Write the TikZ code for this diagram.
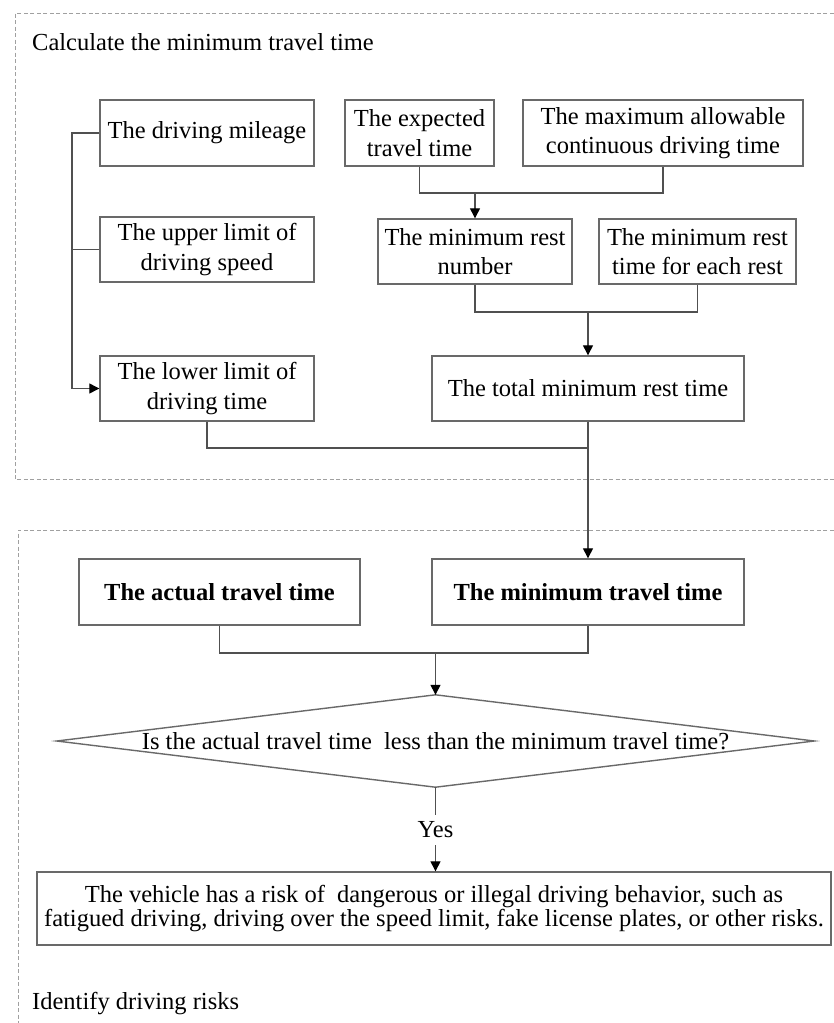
\documentclass[tikz,border=0pt]{standalone}
\usepackage{fontspec}
\setmainfont{Liberation Serif}
\usetikzlibrary{arrows.meta,calc}
\definecolor{boxline}{RGB}{105,105,105}
\definecolor{conline}{RGB}{80,80,80}
\definecolor{dashline}{RGB}{160,160,160}
\tikzset{
  x=1pt,y=-1pt,
  every node/.style={font=\fontsize{24.5}{29.5}\selectfont, align=center, inner sep=0pt},
  box/.style={draw=boxline, line width=1.4pt, fill=white},
  conn/.style={draw=conline, line width=1.3pt},
  arr/.style={conn, -{Triangle[length=10pt,width=10pt,color=black]}},
  region/.style={draw=dashline, line width=1pt, dash pattern=on 4pt off 2.5pt},
}
\begin{document}
\begin{tikzpicture}
\useasboundingbox (0,0) rectangle (833,1023);
\fill[white] (0,0) rectangle (833,1023);

% dashed regions
\draw[region] (840,13) -- (15,13) -- (15,479) -- (840,479);
\draw[region] (840,530) -- (18,530) -- (18,1030);

\node[anchor=base west] (t1) at (32,50) {Calculate the minimum travel time};
\node[anchor=base west] (t2) at (32,1009) {Identify driving risks};

% boxes
\node[box, minimum width=214, minimum height=66] (mil) at (207,133) {The driving mileage};
\node[box, minimum width=149, minimum height=66] (exp) at (419.5,133) {The expected\\travel time};
\node[box, minimum width=280, minimum height=66] (max) at (663,133) {The maximum allowable\\continuous driving time};
\node[box, minimum width=214, minimum height=65] (up) at (207,249.5) {The upper limit of\\driving speed};
\node[box, minimum width=214, minimum height=65] (low) at (207,388.5) {The lower limit of\\driving time};
\node[box, minimum width=194, minimum height=65] (rnum) at (475,251.5) {The minimum rest\\number};
\node[box, minimum width=197, minimum height=65] (rtime) at (697.5,251.5) {The minimum rest\\time for each rest};
\node[box, minimum width=312, minimum height=65] (total) at (588,388.5) {The total minimum rest time};
\node[box, minimum width=281, minimum height=66] (act) at (219.5,592) {\bfseries The actual travel time};
\node[box, minimum width=312, minimum height=66] (mint) at (588,592) {\bfseries The minimum travel time};
\node[minimum width=757, minimum height=92] (dec) at (435.5,741) {};
\draw[box] (dec.west) -- (dec.north) -- (dec.east) -- (dec.south) -- cycle;
\node at (dec.center) {Is the actual travel time\ \ less than the minimum travel time?};
\node[minimum height=30] (yes) at (435.5,830) {Yes};
\node[box, minimum width=794, minimum height=73, font=\fontsize{24.5}{23.5}\selectfont] (fin) at (434,908.5)
  {The vehicle has a risk of\ \ dangerous or illegal driving behavior, such as\\fatigued driving, driving over the speed limit, fake license plates, or other risks.};

% junction coordinates
\coordinate (tr) at (72,0);
\coordinate (j1) at (0,193);
\coordinate (j2) at (0,312);
\coordinate (j3) at (0,448);
\coordinate (j4) at (0,653);

% connectors
\draw[arr] (mil.west) -- (mil.west -| tr) |- (low.west);
\draw[conn] (up.west) -- (up.west -| tr);
\draw[conn] (exp.south) -- (exp.south |- j1) -| (max.south);
\draw[arr] (rnum.north |- j1) -- (rnum.north);
\draw[conn] (rnum.south) -- (rnum.south |- j2) -| (rtime.south);
\draw[arr] (total.north |- j2) -- (total.north);
\draw[conn] (low.south) -- (low.south |- j3) -- (total.south |- j3);
\draw[arr] (total.south) -- (mint.north);
\draw[conn] (act.south) -- (act.south |- j4) -| (mint.south);
\draw[arr] (dec.north |- j4) -- (dec.north);
\draw[conn] (dec.south) -- (yes.north);
\draw[arr] (yes.south) -- (fin.north -| yes.south);
\end{tikzpicture}
\end{document}
